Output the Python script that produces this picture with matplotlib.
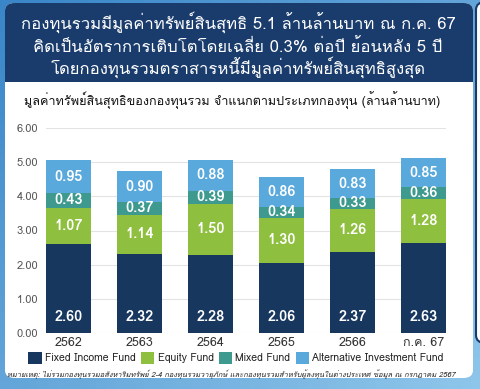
import numpy as np
import matplotlib
matplotlib.use("Agg")
import matplotlib.pyplot as plt
from matplotlib import font_manager
from matplotlib.ft2font import FT2Font
from matplotlib.patches import FancyBboxPatch

years = ["2562", "2563", "2564", "2565", "2566", "ก.ค. 67"]
fixed_income = [2.60, 2.32, 2.28, 2.06, 2.37, 2.63]
equity = [1.07, 1.14, 1.50, 1.30, 1.26, 1.28]
mixed = [0.43, 0.37, 0.39, 0.34, 0.33, 0.36]
alternative = [0.95, 0.90, 0.88, 0.86, 0.83, 0.85]
series_names = ["Fixed Income Fund", "Equity Fund", "Mixed Fund", "Alternative Investment Fund"]
colors = ["#17375f", "#8fbf3e", "#3e9a8e", "#59a9dc"]

header_lines = ["กองทุนรวมมีมูลค่าทรัพย์สินสุทธิ 5.1 ล้านล้านบาท ณ ก.ค. 67",
                "คิดเป็นอัตราการเติบโตโดยเฉลี่ย 0.3% ต่อปี ย้อนหลัง 5 ปี",
                "โดยกองทุนรวมตราสารหนี้มีมูลค่าทรัพย์สินสุทธิสูงสุด"]
chart_title = "มูลค่าทรัพย์สินสุทธิของกองทุนรวม จำแนกตามประเภทกองทุน (ล้านล้านบาท)"
footnote = ("หมายเหตุ: ไม่รวมกองทุนรวมอสังหาริมทรัพย์ 2-4 กองทุนรวมวายุภักษ์ "
            "และกองทุนรวมสำหรับผู้ลงทุนในต่างประเทศ ข้อมูล ณ กรกฎาคม 2567")


# look for an installed family that has Thai glyphs
def thai_family():
    for f in font_manager.fontManager.ttflist:
        try:
            if 0x0E01 in FT2Font(f.fname).get_charmap():
                return f.name
        except Exception:
            pass
    return None


fam = thai_family()
plt.rcParams["font.family"] = ([fam] if fam else []) + ["DejaVu Sans"]

W, H = 481, 389
fig = plt.figure(figsize=(W / 100, H / 100), dpi=100)


def fx(x):
    return x / W


def fy(y):
    return 1 - y / H


# background gradient
bg = fig.add_axes([0, 0, 1, 1], zorder=-10)
gx, gy = np.meshgrid(np.linspace(0, 1, 50), np.linspace(0, 1, 50))
bg.imshow(gx * 0.5 + gy * 0.5, cmap=matplotlib.colors.LinearSegmentedColormap.from_list(
    "bgc", ["#3a86c8", "#8ec5ea"]), extent=[0, 1, 0, 1], aspect="auto")
bg.set_axis_off()

# right hand panel (partly visible)
fig.patches.append(FancyBboxPatch((fx(476), fy(343)), fx(40), fy(2) - fy(343),
                                  boxstyle="round,pad=0,rounding_size=0.02",
                                  transform=fig.transFigure, fc="white", ec="#1a3a6a", lw=1.5,
                                  zorder=-5))

# main white panel + navy header
fig.patches.append(FancyBboxPatch((fx(5), fy(378)), fx(468), fy(3) - fy(378),
                                  boxstyle="round,pad=0,rounding_size=0.02",
                                  transform=fig.transFigure, fc="white", ec="none", zorder=-5))
fig.patches.append(FancyBboxPatch((fx(5), fy(82)), fx(468), fy(3) - fy(82),
                                  boxstyle="round,pad=0,rounding_size=0.02",
                                  transform=fig.transFigure, fc="#1a3c6c", ec="none", zorder=-4))
fig.patches.append(plt.Rectangle((fx(5), fy(82)), fx(468), fy(70) - fy(82),
                                 transform=fig.transFigure, fc="#1a3c6c", ec="none", zorder=-4))

for i, line in enumerate(header_lines):
    fig.text(fx(238), fy(29 + 22.5 * i), line, color="white", fontsize=12,
             ha="center", va="baseline")
fig.text(fx(232), fy(105), chart_title, color="#111111", fontsize=9.1, ha="center", va="baseline")

ax = fig.add_axes([fx(46), fy(333), fx(400), fy(128) - fy(333)], zorder=2)
x = np.arange(len(years))
width = 0.64
bottom = np.zeros(len(years))
for vals, name, c in zip([fixed_income, equity, mixed, alternative], series_names, colors):
    vals = np.array(vals)
    ax.bar(x, vals, width, bottom=bottom, color=c, label=name, zorder=3)
    for xi, b, v in zip(x, bottom, vals):
        ypos = 0.47 if name == "Fixed Income Fund" else b + v / 2
        ax.text(xi, ypos, f"{v:.2f}", color="white", fontsize=10.5, fontweight="bold",
                ha="center", va="center", zorder=4)
    bottom += vals

ax.set_ylim(0, 6)
ax.set_xlim(-0.32, len(years) - 0.68)
ax.set_yticks(np.arange(0, 7, 1))
ax.set_yticklabels([f"{v:.2f}" for v in np.arange(0, 7, 1)], fontsize=8, color="#555555")
ax.set_xticks(x)
ax.set_xticklabels(years, fontsize=9, color="#333333")
ax.tick_params(length=0)
ax.tick_params(axis="y", pad=5.5)
ax.tick_params(axis="x", pad=3)
ax.grid(axis="y", color="#e3e3e3", lw=0.8, zorder=0)
for s in ax.spines.values():
    s.set_visible(False)
ax.set_facecolor("none")

fig.legend(loc="center", bbox_to_anchor=(fx(236), fy(358)), ncol=4, frameon=False,
           fontsize=7.5, handlelength=1.3, handleheight=1.3, handletextpad=0.3,
           columnspacing=0.5, labelcolor="#222222")

fig.text(fx(231), fy(374), footnote, fontsize=5.4, style="italic", color="#222222",
         ha="center", va="center")

fig.savefig("out.png", dpi=100)
